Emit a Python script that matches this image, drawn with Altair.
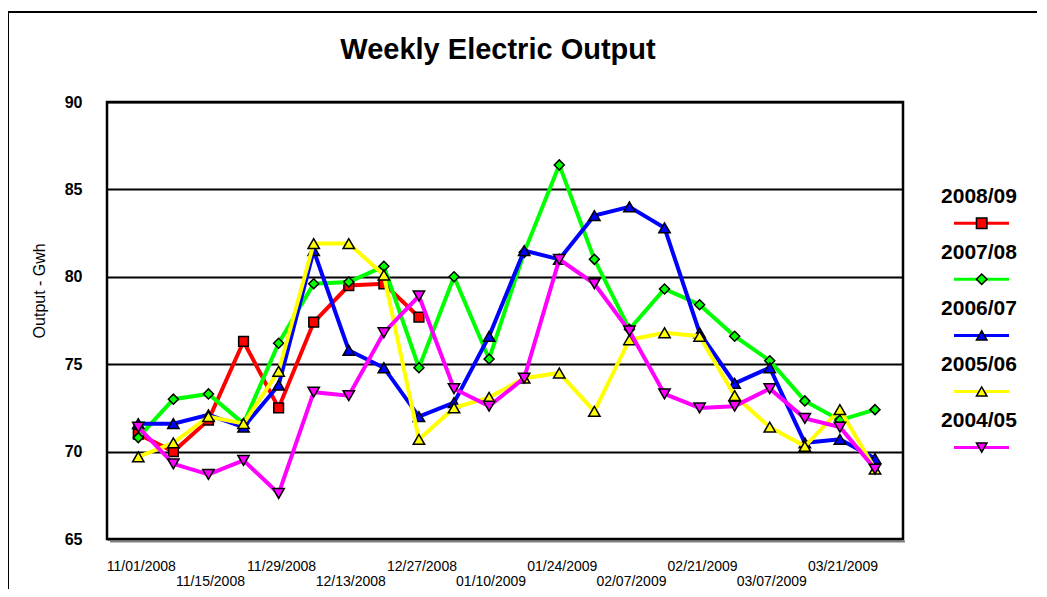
import altair as alt
import pandas as pd

# ---------------- data ----------------
weeks = ["11/01/2008", "11/08/2008", "11/15/2008", "11/22/2008", "11/29/2008",
         "12/06/2008", "12/13/2008", "12/20/2008", "12/27/2008", "01/03/2009",
         "01/10/2009", "01/17/2009", "01/24/2009", "01/31/2009", "02/07/2009",
         "02/14/2009", "02/21/2009", "02/28/2009", "03/07/2009", "03/14/2009",
         "03/21/2009", "03/28/2009"]

series_names = ["2008/09", "2007/08", "2006/07", "2005/06", "2004/05"]

s2008_09 = [71.0, 70.0, 71.8, 76.3, 72.5, 77.4, 79.5, 79.6, 77.7]
s2007_08 = [70.8, 73.0, 73.3, 71.6, 76.2, 79.6, 79.7, 80.6, 74.8, 80.0, 75.3,
            81.4, 86.4, 81.0, 77.0, 79.3, 78.4, 76.6, 75.2, 72.9, 71.8, 72.4]
s2006_07 = [71.6, 71.6, 72.1, 71.4, 73.8, 81.5, 75.8, 74.8, 72.0, 72.8, 76.6,
            81.5, 81.0, 83.5, 84.0, 82.8, 76.8, 73.9, 74.8, 70.5, 70.7, 69.6]
s2005_06 = [69.7, 70.5, 72.0, 71.6, 74.6, 81.9, 81.9, 80.1, 70.7, 72.5, 73.1,
            74.2, 74.5, 72.3, 76.4, 76.8, 76.6, 73.2, 71.4, 70.3, 72.4, 69.0]
s2004_05 = [71.4, 69.3, 68.7, 69.5, 67.6, 73.4, 73.2, 76.8, 78.9, 73.6, 72.6,
            74.2, 81.0, 79.6, 76.9, 73.3, 72.5, 72.6, 73.6, 71.9, 71.4, 69.0]

tick_labels_upper = ["11/01/2008", "11/29/2008", "12/27/2008", "01/24/2009", "02/21/2009", "03/21/2009"]
tick_labels_lower = ["11/15/2008", "12/13/2008", "01/10/2009", "02/07/2009", "03/07/2009"]
y_ticks = [65, 70, 75, 80, 85, 90]

colors = ["#FF0000", "#00FF00", "#0000FF", "#FFFF00", "#FF00FF"]
shapes = ["square", "diamond", "triangle-up", "triangle-up", "triangle-down"]
sizes = [95, 100, 130, 130, 130]

values = [s2008_09, s2007_08, s2006_07, s2005_06, s2004_05]

# ---------------- tables ----------------
rows = []
for name, vals in zip(series_names, values):
    for i, v in enumerate(vals):
        rows.append({"idx": i, "week": weeks[i], "series": name, "value": v})
df = pd.DataFrame(rows)

ticks_up = pd.DataFrame({"label": tick_labels_upper,
                         "idx": [weeks.index(t) for t in tick_labels_upper]})
ticks_lo = pd.DataFrame({"label": tick_labels_lower,
                         "idx": [weeks.index(t) for t in tick_labels_lower]})

FONT = "Liberation Sans"
W, H = 796, 437

xscale = alt.Scale(domain=[-0.892, 21.798], nice=False, zero=False)
yscale = alt.Scale(domain=[65, 90], nice=False, zero=False)

one = pd.DataFrame({"a": [0]})

yaxis = alt.Axis(values=y_ticks, grid=True, gridColor="black", gridWidth=2, gridOpacity=1,
                 domain=False, ticks=False, labelFontSize=16, labelFontWeight="bold",
                 labelColor="black", labelFont=FONT, labelPadding=25, title=None)

layers = []

for k, name in enumerate(series_names):
    sub = df[df.series == name]
    base = alt.Chart(sub).encode(
        x=alt.X("idx:Q", scale=xscale, axis=None),
        y=alt.Y("value:Q", scale=yscale, axis=yaxis),
    )
    layers.append(base.mark_line(color=colors[k], strokeWidth=4))
    layers.append(base.mark_point(shape=shapes[k], filled=True, fill=colors[k],
                                  stroke="black", strokeWidth=1.5, size=sizes[k], opacity=1))

# plot shadow (bottom)
layers.append(
    alt.Chart(one).mark_rule(color="#808080", strokeWidth=2).encode(
        x=alt.value(3), x2=alt.value(W + 2), y=alt.value(H + 2.5)
    )
)

# x tick labels, staggered in two rows
layers.append(
    alt.Chart(ticks_up).mark_text(fontSize=14, font=FONT, color="black", baseline="middle",
                                  align="center", dx=3).encode(
        x=alt.X("idx:Q", scale=xscale, axis=None), y=alt.value(H + 28), text="label:N")
)
layers.append(
    alt.Chart(ticks_lo).mark_text(fontSize=14, font=FONT, color="black", baseline="middle",
                                  align="center", dx=2).encode(
        x=alt.X("idx:Q", scale=xscale, axis=None), y=alt.value(H + 43), text="label:N")
)

# y-axis title
layers.append(
    alt.Chart(pd.DataFrame({"t": ["Output - Gwh"]})).mark_text(
        fontSize=16, font=FONT, color="black", baseline="middle", align="center", angle=270).encode(
        x=alt.value(-67.5), y=alt.value(188.8), text="t:N")
)

# outer chart border
layers.append(
    alt.Chart(one).mark_rect(filled=False, stroke="black", strokeWidth=2).encode(
        x=alt.value(-99), x2=alt.value(1100), y=alt.value(-90), y2=alt.value(700)
    )
)

# custom legend: label above a line+marker sample
for k, name in enumerate(series_names):
    ld = pd.DataFrame({"series": [name]})
    yl = 94.7 + 56.1 * k
    ys = yl + 26.5
    layers.append(alt.Chart(ld).mark_text(fontSize=21, fontWeight="bold", font=FONT, color="black",
                                          baseline="middle", align="center").encode(
        x=alt.value(872), y=alt.value(yl), text="series:N"))
    layers.append(alt.Chart(ld).mark_rule(strokeWidth=3, color=colors[k]).encode(
        x=alt.value(847), x2=alt.value(902), y=alt.value(ys)))
    layers.append(alt.Chart(ld).mark_point(filled=True, fill=colors[k], stroke="black", strokeWidth=1.5,
                                           size=110, opacity=1, shape=shapes[k]).encode(
        x=alt.value(874.7), y=alt.value(ys)))

# title
layers.append(
    alt.Chart(pd.DataFrame({"t": ["Weekly Electric Output"]})).mark_text(
        fontSize=29, fontWeight="bold", font=FONT, color="black", baseline="middle", align="center").encode(
        x=alt.value(391), y=alt.value(-52), text="t:N")
)

chart = alt.layer(*layers).properties(
    width=W, height=H,
    autosize=alt.AutoSizeParams(type="none"),
    padding={"left": 99, "top": 94, "right": 134, "bottom": 50},
).configure_view(stroke="black", strokeWidth=2.5).configure_axisY(
    labelColor="black", labelFontSize=16, labelFontWeight="bold", labelFont=FONT)

chart.save("out.html", embed_options={"renderer": "svg", "actions": False})
